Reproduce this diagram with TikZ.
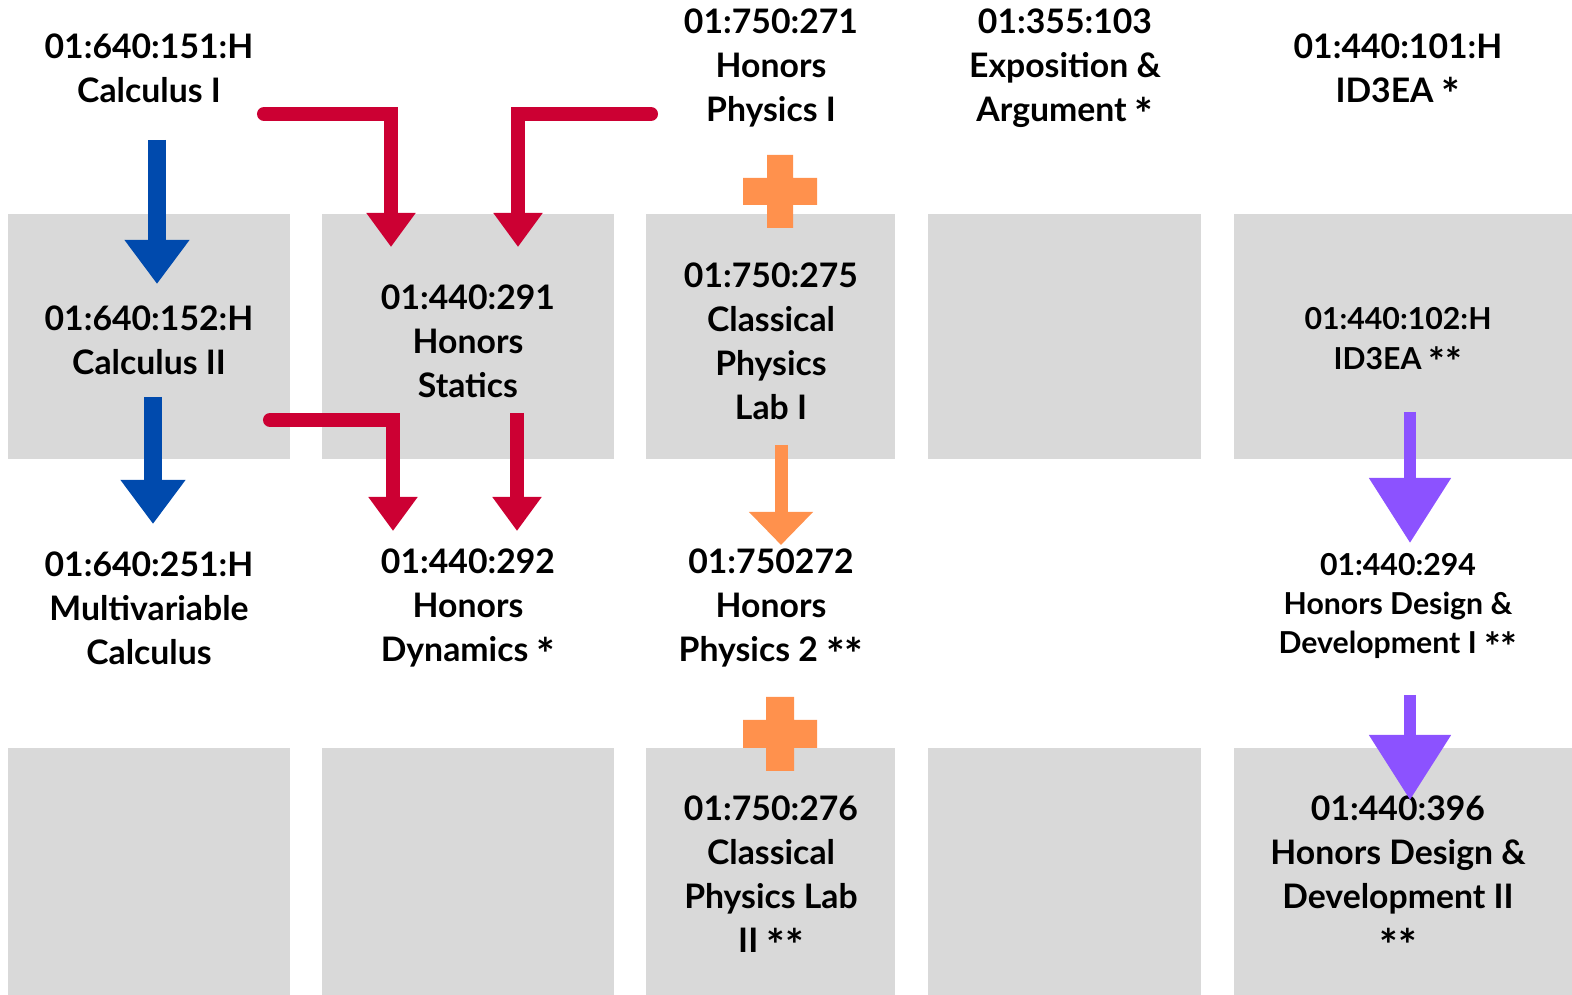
\documentclass[tikz,border=0pt]{standalone}
\usepackage{fontspec}
\usepackage{graphicx}
\setmainfont{Lato}
\usetikzlibrary{arrows.meta,calc}

\definecolor{cellgray}{HTML}{D9D9D9}
\definecolor{prereqblue}{HTML}{004AAD}
\definecolor{prereqred}{HTML}{CC0033}
\definecolor{coreqorange}{HTML}{FF914D}
\definecolor{designpurple}{HTML}{8C52FF}

\newcommand\crsast{\raisebox{-0.26em}[0.5em][0pt]{\scalebox{1.3}{*}}}

\tikzset{
  course/.style={align=center, inner sep=0pt, font=\fontsize{9.6}{12.5}\selectfont\bfseries},
  smallcourse/.style={course, font=\fontsize{8.6}{11.2}\selectfont\bfseries},
  cell/.style={fill=cellgray},
  bluearrow/.style={draw=prereqblue, line width=0.18cm, -{Triangle[length=0.44cm,width=0.62cm]}},
  redarrow/.style={draw=prereqred, line width=0.14cm, -{Triangle[length=0.34cm,width=0.47cm]}},
  orangearrow/.style={draw=coreqorange, line width=0.13cm, -{Triangle[length=0.33cm,width=0.62cm]}},
  purplearrow/.style={draw=designpurple, line width=0.12cm, -{Triangle[length=0.65cm,width=0.79cm]}},
  plussign/.style={fill=coreqorange}
}

\begin{document}
\begin{tikzpicture}[x=0.01cm, y=-0.01cm]
    \useasboundingbox (0,0) rectangle (1572,995);

    % grey cells
    \fill[cell] (8,214) rectangle (290,459);
    \fill[cell] (322,214) rectangle (614,459);
    \fill[cell] (646,214) rectangle (895,459);
    \fill[cell] (928,214) rectangle (1201,459);
    \fill[cell] (1234,214) rectangle (1572,459);

    \fill[cell] (8,748) rectangle (290,995);
    \fill[cell] (322,748) rectangle (614,995);
    \fill[cell] (646,748) rectangle (895,995);
    \fill[cell] (928,748) rectangle (1201,995);
    \fill[cell] (1234,748) rectangle (1572,995);

    % courses
    \node[course] (calcI) at (149,68) {01:640:151:H\\Calculus I};
    \node[course] (calcII) at (149,340.5) {01:640:152:H\\Calculus II};
    \node[course] (multivar) at (149,608) {01:640:251:H\\Multivariable\\Calculus};

    \node[course] (statics) at (468,341) {01:440:291\\Honors\\Statics};
    \node[course] (dynamics) at (468,608) {01:440:292\\Honors\\Dynamics \crsast};

    \node[course] (physI) at (771,68) {01:750:271\\Honors\\Physics I};
    \node[course] (labI) at (771,341) {01:750:275\\Classical\\Physics\\Lab I};
    \node[course] (physII) at (771,608) {01:750272\\Honors\\Physics 2 \crsast\crsast};
    \node[course] (labII) at (771,874) {01:750:276\\Classical\\Physics Lab\\II \crsast\crsast};

    \node[course] (expo) at (1065,68) {01:355:103\\Exposition \&\\Argument \crsast};

    \node[course] (idI) at (1398,68) {01:440:101:H\\ID3EA \crsast};
    \node[smallcourse] (idII) at (1398,338.5) {01:440:102:H\\ID3EA \crsast\crsast};
    \node[smallcourse] (hdI) at (1398,606) {01:440:294\\Honors Design \&\\Development I \crsast\crsast};

    % calculus
    \draw[bluearrow] ($(calcI)+(8,72)$) -- ($(calcII)+(8,-56.5)$);
    \draw[bluearrow] ($(calcII)+(4,56.5)$) -- ($(multivar)+(4,-84)$);

    % mechanics
    \draw[redarrow, line cap=round] ($(calcI)+(115,46)$) -| ($(statics)+(-77,-94)$);
    \draw[redarrow, line cap=round] ($(physI)+(-120,46)$) -| ($(statics)+(50,-94)$);
    \draw[redarrow, line cap=round] ($(calcII)+(121,79.5)$) -| ($(dynamics)+(-75,-77)$);
    \draw[redarrow] ($(statics)+(49,72)$) -- ($(dynamics)+(49,-77)$);

    % physics
    \fill[plussign] ($(physI)+(9,123)$) ++(-13,-36) rectangle ++(26,73)
                    ($(physI)+(9,123)$) ++(-37,-13) rectangle ++(74,27);
    \draw[orangearrow] ($(labI)+(10,104)$) -- ($(physII)+(10,-63)$);
    \fill[plussign] ($(physII)+(9,126)$) ++(-14,-37) rectangle ++(28,74)
                    ($(physII)+(9,126)$) ++(-37,-14) rectangle ++(74,28);

    % design
    \draw[purplearrow] ($(idII)+(12,73.5)$) -- ($(hdI)+(12,-63)$);
    \node[course] (hdII) at (1398,874) {01:440:396\\Honors Design \&\\Development II\\\crsast\crsast};
    \draw[purplearrow] ($(hdI)+(12,89)$) -- ($(hdII)+(12,-74)$);
\end{tikzpicture}
\end{document}
